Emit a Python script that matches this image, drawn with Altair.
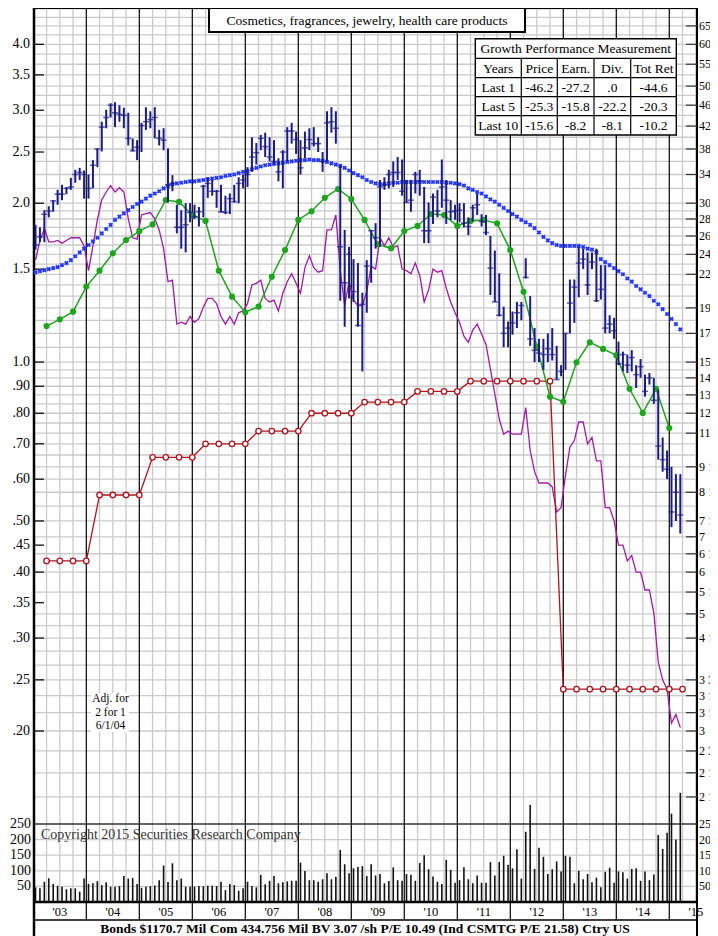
import altair as alt
import pandas as pd

FONT = "Liberation Serif"

# ---------------- chart values ----------------
first_month = "2003-01"

price_high = [
    27.3, 27.0, 29.1, 29.6, 30.4, 31.8, 32.5, 32.2, 33.5, 34.7, 35.0, 34.6,
    34.0, 36.2, 38.1, 42.8, 45.1, 46.4, 46.6, 46.0, 45.5, 44.5, 39.8, 39.5,
    42.6, 45.6, 44.8, 45.6, 41.3, 41.6, 38.1, 33.9, 29.8, 29.1, 30.0, 30.0,
    29.8, 29.5, 32.5, 33.6, 33.2, 31.8, 32.5, 31.0, 31.3, 32.5, 33.6, 34.0,
    35.1, 40.0, 39.0, 40.4, 40.8, 40.0, 39.5, 36.5, 37.8, 41.8, 42.6, 41.0,
    39.5, 41.0, 41.6, 41.8, 40.0, 37.5, 44.8, 45.6, 44.8, 35.5, 26.7, 24.8,
    23.5, 23.1, 20.3, 23.4, 26.7, 27.5, 33.2, 33.6, 34.7, 36.0, 36.7, 36.3,
    33.2, 33.2, 34.4, 34.7, 32.2, 30.1, 31.3, 31.8, 36.3, 33.2, 30.4, 29.8,
    30.0, 30.0, 28.2, 29.8, 31.3, 28.6, 28.5, 26.0, 24.4, 22.1, 19.1, 17.9,
    18.7, 19.5, 19.5, 23.6, 20.0, 17.4, 16.6, 16.6, 17.0, 17.4, 16.1, 14.8,
    17.0, 21.5, 21.5, 24.8, 24.6, 24.2, 24.2, 24.6, 22.9, 22.9, 18.4, 18.2,
    16.4, 15.7, 15.5, 15.8, 14.8, 15.2, 14.2, 14.3, 14.0, 13.3, 10.8, 10.2,
    9.5, 9.2, 9.2,
]
price_low = [
    24.5, 25.3, 25.3, 28.2, 28.9, 29.8, 30.4, 31.2, 31.8, 32.8, 33.2, 30.6,
    30.6, 32.0, 35.1, 37.6, 41.6, 43.6, 41.8, 42.8, 41.6, 38.6, 37.6, 36.2,
    37.5, 41.3, 41.6, 39.8, 38.6, 37.8, 30.1, 31.6, 26.3, 24.6, 24.2, 27.6,
    28.0, 27.1, 28.2, 30.7, 31.0, 29.4, 28.8, 28.6, 28.6, 30.1, 30.0, 32.0,
    32.2, 34.4, 35.5, 37.8, 36.7, 36.0, 35.5, 33.0, 32.0, 36.0, 38.9, 37.2,
    34.0, 36.5, 37.8, 38.4, 37.5, 34.4, 36.0, 40.8, 38.9, 19.6, 17.5, 19.8,
    19.5, 17.5, 14.4, 18.6, 21.2, 24.6, 24.8, 31.8, 32.0, 32.2, 33.2, 31.0,
    30.1, 28.9, 31.3, 31.0, 25.2, 25.2, 27.4, 28.2, 29.4, 27.4, 27.9, 27.9,
    27.6, 27.0, 26.1, 27.7, 28.5, 27.1, 26.1, 20.1, 19.5, 18.3, 16.0, 16.0,
    16.9, 17.4, 18.0, 21.6, 16.1, 15.0, 15.0, 14.5, 15.0, 15.1, 13.9, 14.1,
    14.5, 17.0, 17.8, 19.9, 22.5, 20.1, 22.5, 19.5, 19.7, 17.0, 17.0, 16.6,
    14.8, 14.4, 14.3, 14.4, 13.4, 14.0, 12.9, 13.6, 12.5, 9.8, 9.3, 9.0,
    7.3, 7.5, 7.1,
]
price_close = [
    25.0, 25.9, 28.6, 29.0, 30.3, 31.2, 31.2, 32.0, 32.2, 34.0, 34.3, 34.0,
    32.0, 35.4, 38.0, 41.8, 43.6, 46.0, 44.5, 44.2, 44.0, 39.8, 37.7, 38.3,
    42.1, 42.8, 43.2, 43.6, 39.8, 39.5, 32.5, 32.7, 27.0, 27.0, 27.3, 28.8,
    28.3, 28.9, 32.3, 32.7, 31.6, 31.6, 28.9, 28.8, 30.6, 30.2, 32.7, 33.2,
    34.0, 36.7, 37.4, 39.8, 38.4, 36.7, 36.0, 34.4, 37.5, 41.1, 41.1, 39.6,
    35.0, 38.2, 39.6, 38.9, 38.9, 36.0, 42.6, 42.8, 41.6, 24.8, 21.2, 24.0,
    20.4, 17.6, 19.3, 22.8, 26.6, 25.8, 32.2, 32.5, 34.0, 34.3, 34.3, 31.6,
    30.1, 30.4, 34.0, 33.0, 26.6, 26.6, 30.8, 29.0, 32.2, 30.4, 28.9, 29.0,
    29.1, 27.5, 27.1, 29.4, 29.8, 27.7, 26.4, 22.6, 19.5, 18.4, 17.0, 17.4,
    17.8, 18.6, 19.2, 21.7, 16.6, 15.8, 15.6, 15.5, 15.9, 15.5, 13.9, 14.4,
    17.0, 19.4, 20.8, 23.1, 23.5, 21.0, 23.2, 19.6, 20.6, 17.4, 17.7, 17.2,
    14.9, 15.5, 14.8, 15.3, 14.2, 14.7, 13.2, 14.0, 12.7, 10.4, 9.8, 9.4,
    7.8, 8.5, 7.7,
]
moving_avg = [
    22.2, 22.3, 22.4, 22.5, 22.6, 22.7, 22.9, 23.1, 23.4, 23.8, 24.2, 24.6,
    25.0, 25.4, 25.8, 26.3, 26.8, 27.3, 27.9, 28.3, 28.7, 29.1, 29.5, 29.9,
    30.2, 30.6, 31.0, 31.3, 31.6, 32.0, 32.3, 32.6, 32.7, 32.8, 32.9, 33.0,
    33.0, 33.1, 33.2, 33.3, 33.4, 33.5, 33.6, 33.8, 33.9, 34.0, 34.2, 34.4,
    34.5, 34.8, 35.0, 35.2, 35.4, 35.5, 35.6, 35.7, 35.8, 35.9, 36.0, 36.1,
    36.2, 36.2, 36.3, 36.2, 36.2, 36.1, 35.9, 35.7, 35.5, 35.3, 35.0, 34.6,
    34.2, 33.9, 33.6, 33.2, 32.9, 32.7, 32.6, 32.6, 32.7, 32.8, 32.8, 32.9,
    32.9, 32.9, 32.9, 32.9, 32.9, 32.9, 32.9, 32.9, 32.9, 32.8, 32.8, 32.7,
    32.6, 32.4, 32.0, 31.8, 31.5, 31.3, 30.9, 30.5, 30.2, 29.8, 29.4, 29.0,
    28.6, 28.3, 27.9, 27.6, 27.3, 26.9, 26.4, 25.9, 25.5, 25.2, 25.0, 24.9,
    24.9, 24.9, 24.9, 24.9, 24.8, 24.6, 24.5, 24.2, 23.5, 23.2, 22.9, 22.6,
    22.3, 22.0, 21.6, 21.3, 20.9, 20.6, 20.3, 20.0, 19.6, 19.3, 18.9, 18.5,
    18.1, 17.7, 17.3,
]
rel_strength = [
    1.56, 1.70, 1.79, 1.69, 1.69, 1.70, 1.68, 1.70, 1.72, 1.72, 1.72, 1.66,
    1.49, 1.66, 1.86, 2.03, 2.10, 2.16, 2.10, 2.14, 2.10, 1.87, 1.72, 1.71,
    1.90, 1.91, 1.92, 1.87, 1.78, 1.64, 1.42, 1.43, 1.18, 1.19, 1.18, 1.22,
    1.19, 1.21, 1.27, 1.32, 1.32, 1.29, 1.22, 1.18, 1.22, 1.18, 1.24, 1.25,
    1.29, 1.40, 1.41, 1.43, 1.32, 1.30, 1.31, 1.25, 1.35, 1.42, 1.47, 1.41,
    1.35, 1.51, 1.59, 1.51, 1.48, 1.49, 1.78, 1.78, 1.90, 1.49, 1.28, 1.42,
    1.31, 1.28, 1.28, 1.36, 1.52, 1.50, 1.72, 1.66, 1.72, 1.65, 1.66, 1.50,
    1.49, 1.47, 1.54, 1.46, 1.30, 1.37, 1.50, 1.48, 1.49, 1.38, 1.30, 1.24,
    1.19, 1.12, 1.09, 1.15, 1.18, 1.13, 1.08, 0.97, 0.87, 0.78, 0.73, 0.74,
    0.73, 0.73, 0.73, 0.82, 0.68, 0.62, 0.59, 0.59, 0.59, 0.58, 0.52, 0.53,
    0.61, 0.69, 0.71, 0.77, 0.77, 0.70, 0.72, 0.65, 0.65, 0.53, 0.53, 0.50,
    0.45, 0.45, 0.42, 0.43, 0.40, 0.40, 0.37, 0.37, 0.335, 0.27, 0.25, 0.24,
    0.207, 0.215, 0.203,
]
volume = [
    47, 44, 65, 76, 58, 52, 49, 41, 44, 44, 33, 75,
    58, 60, 67, 54, 63, 49, 49, 51, 83, 75, 77, 58,
    46, 49, 51, 53, 70, 117, 64, 124, 70, 75, 49, 49,
    49, 51, 51, 52, 52, 51, 65, 38, 58, 54, 36, 44,
    65, 51, 47, 87, 57, 68, 83, 60, 63, 66, 68, 68,
    126, 99, 70, 70, 65, 73, 92, 73, 81, 167, 121, 92,
    108, 112, 115, 83, 121, 85, 90, 60, 67, 111, 70, 68,
    90, 87, 68, 125, 150, 105, 82, 65, 58, 135, 103, 62,
    70, 111, 73, 60, 85, 62, 62, 128, 85, 128, 148, 119,
    108, 169, 75, 225, 311, 106, 174, 145, 90, 105, 130, 98,
    148, 145, 60, 100, 73, 90, 63, 78, 47, 97, 110, 62,
    98, 95, 75, 106, 108, 68, 98, 70, 88, 215, 170, 222,
    283, 200, 350,
]
first_quarter = "2003Q1"
earnings = [
    1.170, 1.205, 1.246, 1.390, 1.490, 1.607, 1.703, 1.771, 1.824, 2.028, 2.011, 1.899,
    1.851, 1.490, 1.330, 1.243, 1.274, 1.451, 1.630, 1.859, 1.931, 2.048, 2.128, 2.037,
    1.859, 1.672, 1.643, 1.771, 1.811, 1.908, 1.899, 1.811, 1.851, 1.859, 1.832, 1.630,
    1.359, 1.070, 0.860, 0.841, 0.999, 1.090, 1.059, 1.030, 0.890, 0.801, 0.890, 0.750,
]
dividends = [
    0.42, 0.42, 0.42, 0.42, 0.56, 0.56, 0.56, 0.56, 0.66, 0.66, 0.66, 0.66,
    0.70, 0.70, 0.70, 0.70, 0.74, 0.74, 0.74, 0.74, 0.80, 0.80, 0.80, 0.80,
    0.84, 0.84, 0.84, 0.84, 0.88, 0.88, 0.88, 0.88, 0.92, 0.92, 0.92, 0.92,
    0.92, 0.92, 0.92, 0.24, 0.24, 0.24, 0.24, 0.24, 0.24, 0.24, 0.24, 0.24, 0.24,
]

left_values = [4.0, 3.5, 3.0, 2.5, 2.0, 1.5, 1.0, 0.9, 0.8, 0.7, 0.6, 0.5, 0.45, 0.4, 0.35, 0.3, 0.25, 0.2]
left_labels = ["4.0", "3.5", "3.0", "2.5", "2.0", "1.5", "1.0", ".90", ".80", ".70", ".60",
               ".50", ".45", ".40", ".35", ".30", ".25", ".20"]
right_values = [65, 60, 55, 50, 46, 42, 38, 34, 30, 28, 26, 24, 22, 19, 17, 15, 14, 13, 12, 11,
                9.5, 8.5, 7.5, 7, 6.5, 6, 5.5, 5, 4.5, 3.75, 3.5, 3.25, 3, 2.75, 2.5, 2.25]
right_labels = ["65", "60", "55", "50", "46", "42", "38", "34", "30", "28", "26", "24", "22", "19",
                "17", "15", "14", "13", "12", "11", "9 1/2", "8 1/2", "7 1/2", "7", "6 1/2", "6",
                "5 1/2", "5", "4 1/2", "3 3/4", "3 1/2", "3 1/4", "3", "2 3/4", "2 1/2", "2 1/4"]
vol_values = [250, 200, 150, 100, 50]
vol_grid = [50, 100, 150, 200]
grid_prices = ([2.25 + 0.25 * k for k in range(12)] + [5.5 + 0.5 * k for k in range(20)]
               + [16 + k for k in range(15)] + [32 + 2 * k for k in range(10)]
               + [52.5 + 2.5 * k for k in range(8)])
year_labels = ["'03", "'04", "'05", "'06", "'07", "'08", "'09", "'10", "'11", "'12", "'13", "'14", "'15"]

title_text = "Cosmetics, fragrances, jewelry, health care products"
table_title = "Growth Performance Measurement"
table_columns = ["Years", "Price", "Earn.", "Div.", "Tot Ret"]
table_rows = [
    ["Last 1", "-46.2", "-27.2", ".0", "-44.6"],
    ["Last 5", "-25.3", "-15.8", "-22.2", "-20.3"],
    ["Last 10", "-15.6", "-8.2", "-8.1", "-10.2"],
]
split_note = ["Adj. for", "2 for 1", "6/1/04"]
copyright_text = "Copyright 2015 Securities Research Company"
footer_text = "Bonds  $1170.7 Mil Com 434.756 Mil BV 3.07 /sh  P/E 10.49 (Ind CSMTG P/E 21.58) Ctry US"

# ---------------- frames ----------------
months = pd.period_range(first_month, periods=len(price_close), freq="M")
monthly = pd.DataFrame({
    "t": [p.year + (p.month - 0.5) / 12 for p in months],
    "high": price_high, "low": price_low, "close": price_close,
    "ma": moving_avg, "rs": rel_strength, "vol": volume,
})
monthly["base"] = 0
qe = pd.period_range(first_quarter, periods=len(earnings), freq="Q")
earn_df = pd.DataFrame({"t": [q.year + q.quarter / 4 for q in qe], "eps": earnings})
qd = pd.period_range(first_quarter, periods=len(dividends), freq="Q")
div_df = pd.DataFrame({"t": [q.year + q.quarter / 4 for q in qd], "div": dividends})

# ---------------- layout ----------------
W, H = 663, 928
X0, X1 = 2003.013, 2015.523
xs = alt.Scale(domain=[X0, X1], zero=False, nice=False)
ys_left = alt.Scale(type="log", domain=[0.2, 4.0], range=[723, 36.3], nice=False)
ys_price = alt.Scale(type="log", domain=[3, 60], range=[723, 36.3], nice=False)
ys_vol = alt.Scale(domain=[0, 250], range=[894, 816], nice=False, zero=False)

one = alt.Data(values=[{}])


def X(f):
    return alt.X(f, scale=xs, axis=None)


def hline(y, x1=0, x2=W, color="black", w=1.0):
    return alt.Chart(one).mark_rule(color=color, strokeWidth=w).encode(
        x=alt.value(x1), x2=alt.value(x2), y=alt.value(y))


def vline(x, y1, y2, color="black", w=1.0):
    return alt.Chart(one).mark_rule(color=color, strokeWidth=w).encode(
        x=alt.value(x), y=alt.value(y1), y2=alt.value(y2))


def box(x1, y1, x2, y2, stroke="black", w=1.0, fill="white"):
    return alt.Chart(one).mark_rect(fill=fill, stroke=stroke, strokeWidth=w).encode(
        x=alt.value(x1), x2=alt.value(x2), y=alt.value(y1), y2=alt.value(y2))


def txt(s, x, y, size=13.5, align="center", weight="normal", color="black"):
    return alt.Chart(one).mark_text(text=s, font=FONT, fontSize=size, align=align,
                                    baseline="middle", fontWeight=weight, color=color).encode(
        x=alt.value(x), y=alt.value(y))


layers = []

# grid: quarters
qlines = [y + q / 4 for y in range(2003, 2016) for q in (1, 2, 3) if y + q / 4 <= X1]
layers.append(alt.Chart(pd.DataFrame({"t": qlines})).mark_rule(color="#cacaca", strokeWidth=1.3).encode(
    x=X("t:Q"), y=alt.value(0), y2=alt.value(894)))
# grid: price levels
layers.append(alt.Chart(pd.DataFrame({"p": grid_prices})).mark_rule(color="#cacaca", strokeWidth=1.3).encode(
    y=alt.Y("p:Q", scale=ys_price, axis=None), x=alt.value(0), x2=alt.value(W)))
# grid: volume
layers.append(alt.Chart(pd.DataFrame({"v": vol_grid})).mark_rule(color="#cacaca", strokeWidth=1.3).encode(
    y=alt.Y("v:Q", scale=ys_vol, axis=None), x=alt.value(0), x2=alt.value(W)))
# year lines
layers.append(alt.Chart(pd.DataFrame({"t": list(range(2004, 2016))})).mark_rule(color="black", strokeWidth=1.2).encode(
    x=X("t:Q"), y=alt.value(0), y2=alt.value(912)))

# frame
layers += [
    hline(0, w=2), vline(0, 0, H, w=2.5), vline(W, 0, H, w=2),
    hline(816, color="#333333", w=1.5), hline(894, w=2.5), hline(912, w=1.5),
]

# axis ticks and labels
layers.append(alt.Chart(pd.DataFrame({"v": left_values})).mark_rule(color="black", strokeWidth=1.2).encode(
    y=alt.Y("v:Q", scale=ys_left, axis=None), x=alt.value(0), x2=alt.value(10)))
layers.append(alt.Chart(pd.DataFrame({"v": left_values, "lab": left_labels})).mark_text(
    font=FONT, fontSize=14, align="right", baseline="middle").encode(
    y=alt.Y("v:Q", scale=ys_left, axis=None), x=alt.value(-4), text="lab:N"))
layers.append(alt.Chart(pd.DataFrame({"v": right_values})).mark_rule(color="#333333", strokeWidth=1.2).encode(
    y=alt.Y("v:Q", scale=ys_price, axis=None), x=alt.value(652), x2=alt.value(W)))
layers.append(alt.Chart(pd.DataFrame({"v": right_values, "lab": right_labels})).mark_text(
    font=FONT, fontSize=12, align="left", baseline="middle").encode(
    y=alt.Y("v:Q", scale=ys_price, axis=None), x=alt.value(665), text="lab:N"))
layers.append(alt.Chart(pd.DataFrame({"v": vol_values, "lab": [str(v) for v in vol_values]})).mark_text(
    font=FONT, fontSize=14, align="right", baseline="middle").encode(
    y=alt.Y("v:Q", scale=ys_vol, axis=None), x=alt.value(-3), text="lab:N"))
layers.append(alt.Chart(pd.DataFrame({"v": vol_values, "lab": [str(v) for v in vol_values]})).mark_text(
    font=FONT, fontSize=12, align="left", baseline="middle").encode(
    y=alt.Y("v:Q", scale=ys_vol, axis=None), x=alt.value(665), text="lab:N"))
layers.append(alt.Chart(pd.DataFrame({"t": [2003.5 + k for k in range(len(year_labels))], "lab": year_labels})).mark_text(
    font=FONT, fontSize=12.5, align="center", baseline="middle").encode(
    x=X("t:Q"), y=alt.value(903.5), text="lab:N"))

# split note box
layers.append(box(57, 685, 95, 724, stroke="white", w=0))
for k, s in enumerate(split_note):
    layers.append(txt(s, 76.5, 691 + 13.5 * k, size=11.5))

# volume bars
layers.append(alt.Chart(monthly).mark_rule(color="#111111", strokeWidth=1.6).encode(
    x=X("t:Q"), y=alt.Y("base:Q", scale=ys_vol, axis=None), y2="vol:Q"))

# relative strength (purple)
layers.append(alt.Chart(monthly).mark_line(color="#a11aa6", strokeWidth=1.3).encode(
    x=X("t:Q"), y=alt.Y("rs:Q", scale=ys_left, axis=None)))
# dividends (red)
layers.append(alt.Chart(div_df).mark_line(color="#b0141c", strokeWidth=1.3).encode(
    x=X("t:Q"), y=alt.Y("div:Q", scale=ys_left, axis=None)))
layers.append(alt.Chart(div_df).mark_point(shape="circle", size=30, fill="white", filled=False,
                                           stroke="#b0141c", strokeWidth=1.3, opacity=1).encode(
    x=X("t:Q"), y=alt.Y("div:Q", scale=ys_left, axis=None)))
# earnings (green)
layers.append(alt.Chart(earn_df).mark_line(color="#1ea51e", strokeWidth=1.5).encode(
    x=X("t:Q"), y=alt.Y("eps:Q", scale=ys_left, axis=None)))
layers.append(alt.Chart(earn_df).mark_point(shape="circle", size=38, filled=True, color="#1ea51e", opacity=1).encode(
    x=X("t:Q"), y=alt.Y("eps:Q", scale=ys_left, axis=None)))
# moving average (blue crosses)
layers.append(alt.Chart(monthly).mark_point(shape="cross", angle=45, size=22, filled=True, color="#2236ff", opacity=1).encode(
    x=X("t:Q"), y=alt.Y("ma:Q", scale=ys_price, axis=None)))
# price bars
layers.append(alt.Chart(monthly).mark_rule(color="#1b1b85", strokeWidth=2).encode(
    x=X("t:Q"), y=alt.Y("low:Q", scale=ys_price, axis=None), y2="high:Q"))
layers.append(alt.Chart(monthly).mark_tick(color="#1b1b85", orient="horizontal", size=6, thickness=1.5).encode(
    x=X("t:Q"), y=alt.Y("close:Q", scale=ys_price, axis=None)))

# title box
layers.append(box(175, 0, 491, 24, w=2))
layers.append(txt(title_text, 333, 12.5, size=13.5))

# growth table
tx = [441.3, 487.3, 523.3, 560.0, 596.7, 642.3]
ty = [30.7, 50.3, 69.7, 88.7, 107.7, 127.0]
layers.append(box(tx[0], ty[0], tx[-1], ty[-1], w=1.4))
for yy in ty[1:-1]:
    layers.append(hline(yy, tx[0], tx[-1], w=1.2))
for xx in tx[1:-1]:
    layers.append(vline(xx, ty[1], ty[-1], w=1.2))
layers.append(txt(table_title, (tx[0] + tx[-1]) / 2, (ty[0] + ty[1]) / 2 + 0.5))
all_rows = [table_columns] + table_rows
for r, row in enumerate(all_rows):
    for c, s in enumerate(row):
        layers.append(txt(s, (tx[c] + tx[c + 1]) / 2, (ty[r + 1] + ty[r + 2]) / 2 + 0.5))

# notes
layers.append(txt(copyright_text, 7, 827, size=14, align="left", color="#333333"))
layers.append(txt(footer_text, 331, 921, size=13.5, weight="bold"))

chart = alt.layer(*layers).resolve_scale(y="independent").properties(
    width=W, height=H,
    autosize=alt.AutoSizeParams(type="none"),
    padding={"left": 26, "right": 13, "top": 0, "bottom": 0},
    background="white",
).configure_view(strokeWidth=0)

chart.save("out.html", embed_options={"renderer": "svg", "actions": False})
